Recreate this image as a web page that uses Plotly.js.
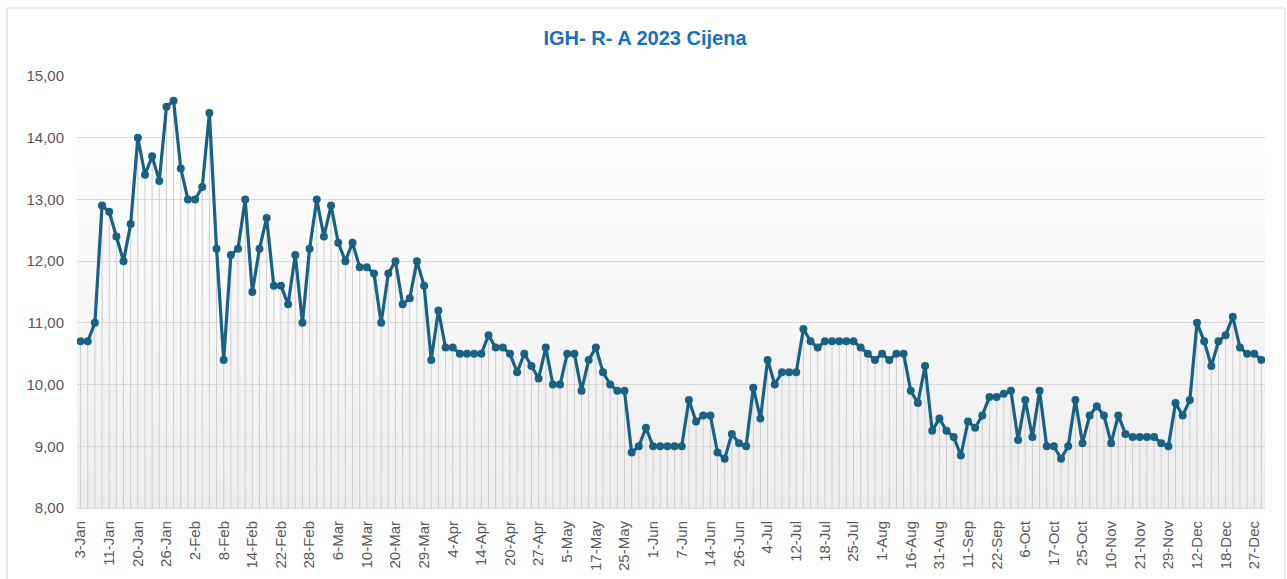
<!DOCTYPE html>
<html>
<head>
<meta charset="utf-8">
<script src="https://cdn.plot.ly/plotly-3.0.1.min.js"></script>
<style>
  html, body { margin: 0; padding: 0; background: #ffffff; }
  #chart { width: 1287px; height: 579px; }
</style>
</head>
<body>
<div id="chart"></div>
<script>
// IGH-R-A closing price 2023, one value per point
var prices = [
  10.7, 10.7, 11.0, 12.9, 12.8, 12.4, 12.0, 12.6, 14.0, 13.4,
  13.7, 13.3, 14.5, 14.6, 13.5, 13.0, 13.0, 13.2, 14.4, 12.2,
  10.4, 12.1, 12.2, 13.0, 11.5, 12.2, 12.7, 11.6, 11.6, 11.3,
  12.1, 11.0, 12.2, 13.0, 12.4, 12.9, 12.3, 12.0, 12.3, 11.9,
  11.9, 11.8, 11.0, 11.8, 12.0, 11.3, 11.4, 12.0, 11.6, 10.4,
  11.2, 10.6, 10.6, 10.5, 10.5, 10.5, 10.5, 10.8, 10.6, 10.6,
  10.5, 10.2, 10.5, 10.3, 10.1, 10.6, 10.0, 10.0, 10.5, 10.5,
  9.9, 10.4, 10.6, 10.2, 10.0, 9.9, 9.9, 8.9, 9.0, 9.3,
  9.0, 9.0, 9.0, 9.0, 9.0, 9.75, 9.4, 9.5, 9.5, 8.9,
  8.8, 9.2, 9.05, 9.0, 9.95, 9.45, 10.4, 10.0, 10.2, 10.2,
  10.2, 10.9, 10.7, 10.6, 10.7, 10.7, 10.7, 10.7, 10.7, 10.6,
  10.5, 10.4, 10.5, 10.4, 10.5, 10.5, 9.9, 9.7, 10.3, 9.25,
  9.45, 9.25, 9.15, 8.85, 9.4, 9.3, 9.5, 9.8, 9.8, 9.85,
  9.9, 9.1, 9.75, 9.15, 9.9, 9.0, 9.0, 8.8, 9.0, 9.75,
  9.05, 9.5, 9.65, 9.5, 9.05, 9.5, 9.2, 9.15, 9.15, 9.15,
  9.15, 9.05, 9.0, 9.7, 9.5, 9.75, 11.0, 10.7, 10.3, 10.7,
  10.8, 11.1, 10.6, 10.5, 10.5, 10.4
];

// date labels shown on the axis (every 4th point)
var tickLabels = [
  '3-Jan', '11-Jan', '20-Jan', '26-Jan', '2-Feb', '8-Feb', '14-Feb', '22-Feb',
  '28-Feb', '6-Mar', '10-Mar', '20-Mar', '29-Mar', '4-Apr', '14-Apr', '20-Apr',
  '27-Apr', '5-May', '17-May', '25-May', '1-Jun', '7-Jun', '14-Jun', '26-Jun',
  '4-Jul', '12-Jul', '18-Jul', '25-Jul', '1-Aug', '16-Aug', '31-Aug', '11-Sep',
  '22-Sep', '6-Oct', '17-Oct', '25-Oct', '10-Nov', '21-Nov', '29-Nov', '12-Dec',
  '18-Dec', '27-Dec'
];
var labelStep = 4;
var yMin = 8, yMax = 15;

var idx = prices.map(function (v, i) { return i; });
var tickPos = tickLabels.map(function (t, i) { return i * labelStep; });

// drop lines from each point down to the axis
var drops = {
  x: idx,
  y: prices,
  type: 'scatter',
  mode: 'markers',
  marker: { size: 1, opacity: 0 },
  error_y: {
    type: 'data',
    symmetric: false,
    array: prices.map(function () { return 0; }),
    arrayminus: prices.map(function (v) { return v - yMin; }),
    color: '#cdcdcd',
    thickness: 1,
    width: 0
  },
  hoverinfo: 'skip',
  showlegend: false
};

var price = {
  x: idx,
  y: prices,
  type: 'scatter',
  mode: 'lines+markers',
  line: { color: '#1a6184', width: 3.2 },
  marker: { color: '#1a6184', size: 8 },
  showlegend: false
};

var grad = '<svg xmlns="http://www.w3.org/2000/svg" width="100" height="100" preserveAspectRatio="none">' +
  '<defs><linearGradient id="g" x1="0" y1="0" x2="0" y2="1">' +
  '<stop offset="0" stop-color="#ffffff"/><stop offset="0.1" stop-color="#ffffff"/>' +
  '<stop offset="1" stop-color="#ededed"/></linearGradient></defs>' +
  '<rect width="100" height="100" fill="url(#g)"/></svg>';

var layout = {
  width: 1287,
  height: 579,
  margin: { l: 77, r: 22, t: 76, b: 71 },
  paper_bgcolor: '#ffffff',
  plot_bgcolor: 'rgba(0,0,0,0)',
  separators: ',.',
  font: { family: '"Liberation Sans", Arial, sans-serif', color: '#595959' },
  title: {
    text: '<b>IGH- R- A 2023 Cijena</b>',
    font: { size: 20, color: '#1a70bd', family: '"Liberation Sans", Arial, sans-serif' },
    x: 645 / 1287, xref: 'container', xanchor: 'center',
    y: 1 - 38 / 579, yref: 'container', yanchor: 'middle'
  },
  xaxis: {
    range: [-0.5, prices.length - 0.5],
    tickmode: 'array',
    tickvals: tickPos,
    ticktext: tickLabels,
    tickangle: -90,
    tickfont: { size: 15, color: '#595959' },
    ticklabelstandoff: 6,
    showgrid: false,
    zeroline: false,
    showline: true,
    linecolor: '#d9d9d9',
    linewidth: 1,
    ticks: ''
  },
  yaxis: {
    range: [yMin, yMax],
    dtick: 1,
    tickformat: '.2f',
    tickfont: { size: 15, color: '#595959' },
    ticklabelstandoff: 12,
    showgrid: true,
    gridcolor: '#d9d9d9',
    gridwidth: 1,
    zeroline: false,
    showline: false,
    ticks: ''
  },
  images: [{
    source: 'data:image/svg+xml;charset=utf-8,' + encodeURIComponent(grad),
    xref: 'paper', yref: 'paper',
    x: 0, y: 1, sizex: 1, sizey: 1,
    xanchor: 'left', yanchor: 'top',
    sizing: 'stretch',
    layer: 'below'
  }],
  shapes: [{
    type: 'rect',
    xref: 'paper', yref: 'paper',
    x0: (7 - 77) / 1188, x1: (1285 - 77) / 1188,
    y0: -0.2, y1: (508 - 8) / 432,
    line: { color: '#d9d9d9', width: 1 },
    fillcolor: 'rgba(0,0,0,0)',
    layer: 'below'
  }]
};

Plotly.newPlot('chart', [drops, price], layout, { displayModeBar: false, staticPlot: true });
</script>
</body>
</html>
